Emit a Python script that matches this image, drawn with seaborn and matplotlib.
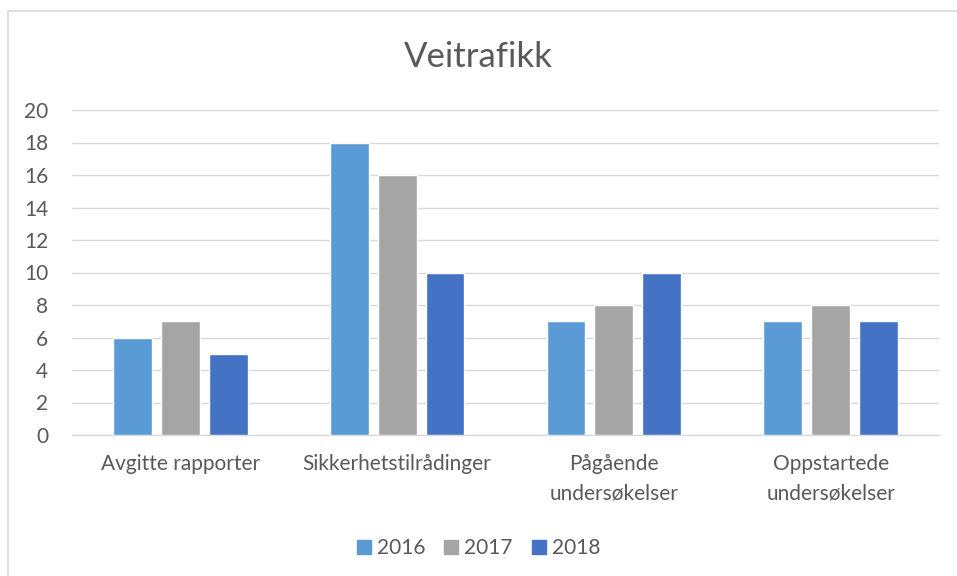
import matplotlib
matplotlib.use("Agg")
import matplotlib.pyplot as plt
import seaborn as sns
import pandas as pd
from matplotlib.patches import Rectangle

categories = ["Avgitte rapporter", "Sikkerhetstilrådinger", "Pågående\nundersøkelser", "Oppstartede\nundersøkelser"]
years = ["2016", "2017", "2018"]
v2016 = [6, 18, 7, 7]
v2017 = [7, 16, 8, 8]
v2018 = [5, 10, 10, 7]
colors = ["#5B9BD5", "#A5A5A5", "#4472C4"]
yticks = list(range(0, 21, 2))

rows = []
for y, vals in zip(years, [v2016, v2017, v2018]):
    for c, v in zip(categories, vals):
        rows.append({"Kategori": c, "År": y, "Verdi": v})
df = pd.DataFrame(rows)

sns.set_theme(style="white")
plt.rcParams["font.family"] = ["Lato", "DejaVu Sans"]

fig = plt.figure(figsize=(9.57, 5.76), dpi=100)
ax = fig.add_axes([72/957, 1-435/576, (939-72)/957, (435-110)/576])

sns.barplot(data=df, x="Kategori", y="Verdi", hue="År", palette=colors,
            width=0.663, gap=0.19, saturation=1, ax=ax, legend=True, zorder=3)

ax.set_ylim(0, 20)
ax.set_xlim(-0.5, 3.5)
ax.set_yticks(yticks)
ax.yaxis.grid(True, color="#D9D9D9", linewidth=1, zorder=0)
ax.set_axisbelow(True)
for s in ["top", "right", "left"]:
    ax.spines[s].set_visible(False)
ax.spines["bottom"].set_color("#D9D9D9")
ax.spines["bottom"].set_linewidth(1)
ax.set_xlabel("")
ax.set_ylabel("")
ax.tick_params(axis="both", length=0, labelsize=15, colors="#595959")
ax.tick_params(axis="x", pad=14)
ax.tick_params(axis="y", pad=17)
for lbl in ax.get_xticklabels():
    lbl.set_linespacing(1.55)

ax.legend_.remove()
handles = [Rectangle((0, 0), 1, 1, color=c) for c in colors]
fig.legend(handles, years, loc="center", bbox_to_anchor=(0.5, 1-548/576), ncol=3,
           frameon=False, fontsize=15, handlelength=0.67, handleheight=0.67,
           handletextpad=0.3, columnspacing=0.9, labelcolor="#595959")

fig.text(0.5, 1-57/576, "Veitrafikk", ha="center", va="center", fontsize=25, color="#595959")

fig.patches.append(Rectangle((8/957, -0.1), 2.0, 1-11/576+0.1, transform=fig.transFigure,
                             fill=False, edgecolor="#D9D9D9", linewidth=1.2))

fig.savefig("out.png", dpi=100)
